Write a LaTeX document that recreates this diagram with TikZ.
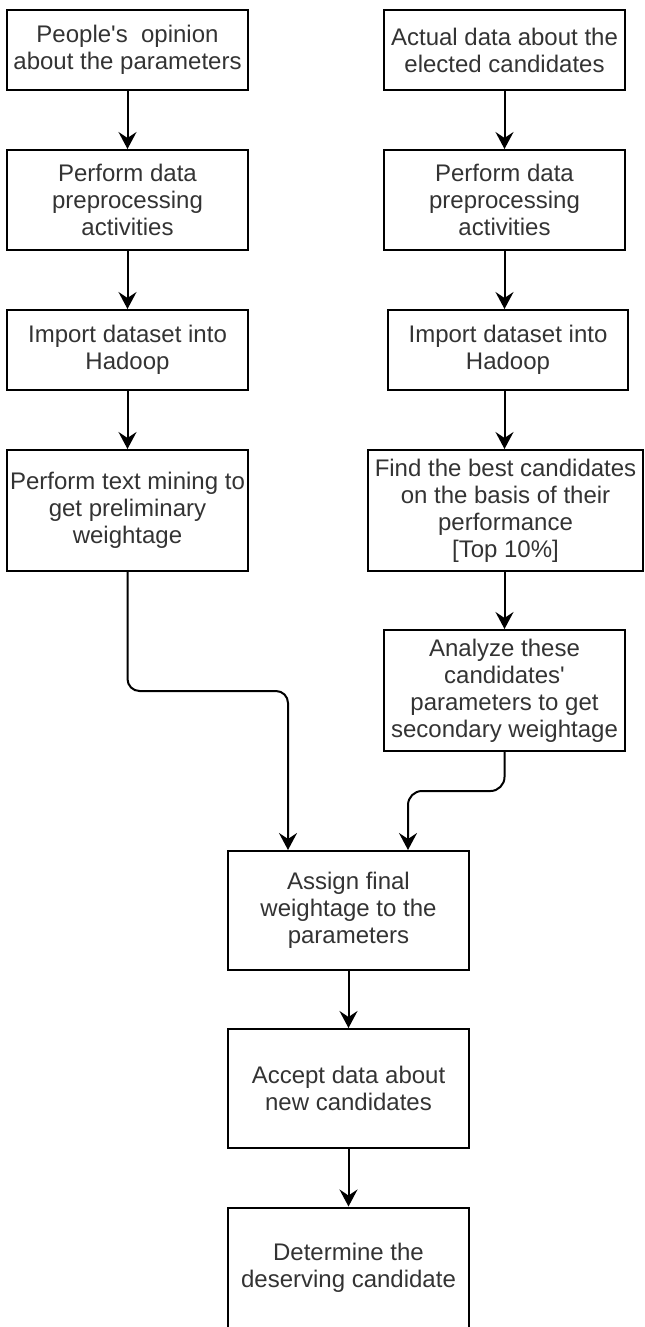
\documentclass[tikz,border=0pt]{standalone}
\usepackage{fontspec}
\setmainfont{Liberation Sans}
\usetikzlibrary{arrows.meta}
\begin{document}
\begin{tikzpicture}[x=0.5pt,y=-0.5pt,
  box/.style={draw=black, line width=1pt, align=center, inner sep=0pt,
    text=black!80, font=\fontsize{12pt}{13.5pt}\selectfont},
  conn/.style={line width=1pt, -{Stealth[length=8.5pt,width=9pt,inset=3pt]}}]
\useasboundingbox (0,0) rectangle (644,1327);
% left column
\node[box, minimum width=120.5pt, minimum height=40pt] (L1) at (127.5,50) {People\textquotesingle s\ \ opinion\\about the parameters};
\node[box, minimum width=120.5pt, minimum height=50pt] (L2) at (127.5,200) {Perform data\\preprocessing\\activities};
\node[box, minimum width=120.5pt, minimum height=40pt] (L3) at (127.5,350) {Import dataset into\\Hadoop};
\node[box, minimum width=120.5pt, minimum height=60.5pt] (L4) at (127.5,510.5) {Perform text mining to\\get preliminary\\weightage};
% right column
\node[box, minimum width=120.5pt, minimum height=40pt] (R1) at (504.5,50) {Actual data about the\\elected candidates};
\node[box, minimum width=120.5pt, minimum height=50pt] (R2) at (504.5,200) {Perform data\\preprocessing\\activities};
\node[box, minimum width=120pt, minimum height=40pt] (R3) at (508,350) {Import dataset into\\Hadoop};
\node[box, minimum width=137.5pt, minimum height=60.5pt] (R4) at (505.5,510.5) {Find the best candidates\\on the basis of their\\performance\\{[Top 10\%]}};
\node[box, minimum width=120.5pt, minimum height=60.5pt] (R5) at (504.5,690.5) {Analyze these\\candidates\textquotesingle\\parameters to get\\secondary weightage};
% centre column
\node[box, minimum width=120.5pt, minimum height=59.5pt] (C1) at (348.5,910.5) {Assign final\\weightage to the\\parameters};
\node[box, minimum width=120.5pt, minimum height=59.5pt] (C2) at (348.5,1088.5) {Accept data about\\new candidates};
\node[box, minimum width=120.5pt, minimum height=60pt] (C3) at (348.5,1267.5) {Determine the\\deserving candidate};
% connectors
\draw[conn] (L1.south) -- (L2.north);
\draw[conn] (L2.south) -- (L3.north);
\draw[conn] (L3.south) -- (L4.north);
\draw[conn] (R1.south) -- (R2.north);
\draw[conn] (R2.south) -- (R2.south |- R3.north);
\draw[conn] (R2.south |- R3.south) -- (R2.south |- R4.north);
\draw[conn] (R2.south |- R4.south) -- (R2.south |- R5.north);
\coordinate (lt) at ([xshift=-30.25pt]C1.north);
\coordinate (rt) at ([xshift=29.75pt]C1.north);
\draw[conn, rounded corners=6pt] (L4.south) -- ++(0,119) -| (lt);
\draw[conn, rounded corners=7pt] (R5.south) -- ++(0,39) -| (rt);
\draw[conn] (C1.south) -- (C2.north);
\draw[conn] (C2.south) -- (C3.north);
\end{tikzpicture}
\end{document}
